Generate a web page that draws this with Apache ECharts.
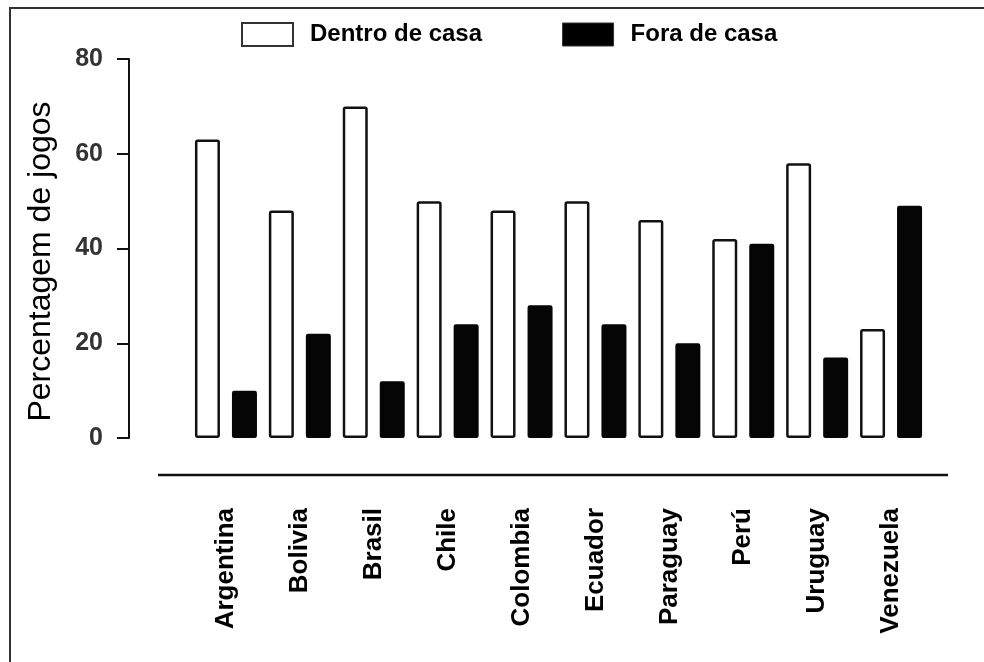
<!DOCTYPE html>
<html>
<head>
<meta charset="utf-8">
<script src="https://cdn.jsdelivr.net/npm/echarts@6/dist/echarts.min.js"></script>
<style>
  html, body { margin: 0; padding: 0; background: #fff; }
  #chart { width: 984px; height: 662px; }
</style>
</head>
<body>
<div id="chart"></div>
<script>
// Countries on the category axis
const countries = ['Argentina', 'Bolivia', 'Brasil', 'Chile', 'Colombia', 'Ecuador', 'Paraguay', 'Perú', 'Uruguay', 'Venezuela'];
// Percentage of matches played at home / away
const dentroDeCasa = [63, 48, 70, 50, 48, 50, 46, 42, 58, 23];
const foraDeCasa = [10, 22, 12, 24, 28, 24, 20, 41, 17, 49];
// Value axis ticks
const yTicks = [0, 20, 40, 60, 80];

const FONT = '"Liberation Sans", Arial, sans-serif';

const chart = echarts.init(document.getElementById('chart'), null, { renderer: 'canvas' });

chart.setOption({
  backgroundColor: '#ffffff',
  animation: false,
  legend: {
    top: 17,
    left: 236,
    icon: 'rect',
    itemWidth: 51,
    itemHeight: 23,
    itemGap: 80,
    textStyle: { fontFamily: FONT, fontWeight: 'bold', fontSize: 24, color: '#000', padding: [0, 0, 0, 12] },
    data: [
      { name: 'Dentro de casa', itemStyle: { color: '#fff', borderColor: '#333', borderWidth: 2 } },
      { name: 'Fora de casa', itemStyle: { color: '#000', borderColor: '#333', borderWidth: 1 } }
    ]
  },
  grid: { left: 189, top: 59, width: 739, height: 379, containLabel: false },
  xAxis: {
    type: 'category',
    data: countries,
    axisLine: { show: false },
    axisTick: { show: false },
    axisLabel: {
      rotate: 90,
      margin: 70,
      interval: 0,
      fontFamily: FONT,
      fontWeight: 'bold',
      fontSize: 26,
      color: '#000'
    }
  },
  yAxis: {
    type: 'value',
    min: yTicks[0],
    max: yTicks[yTicks.length - 1],
    interval: yTicks[1] - yTicks[0],
    offset: 60,
    name: 'Percentagem de jogos',
    nameLocation: 'middle',
    nameGap: 72,
    nameTextStyle: { fontFamily: FONT, fontSize: 32, color: '#000', padding: [0, 26, 0, 0] },
    axisLine: { show: true, lineStyle: { color: '#111', width: 2 } },
    axisTick: { show: true, length: 12, lineStyle: { color: '#111', width: 2 } },
    axisLabel: { margin: 26, fontFamily: FONT, fontWeight: 'bold', fontSize: 25, color: '#333' },
    splitLine: { show: false }
  },
  series: [
    {
      name: 'Dentro de casa',
      type: 'bar',
      data: dentroDeCasa,
      barWidth: 25,
      barGap: '48%',
      itemStyle: { color: '#fff', borderColor: '#111', borderWidth: 2.5, borderRadius: 1.5 }
    },
    {
      name: 'Fora de casa',
      type: 'bar',
      data: foraDeCasa,
      barWidth: 25,
      itemStyle: { color: '#050505', borderColor: '#050505', borderWidth: 2.5, borderRadius: 1 }
    }
  ],
  graphic: [
    {
      type: 'rect',
      shape: { x: 10, y: 8, width: 1000, height: 700 },
      style: { fill: 'none', stroke: '#333', lineWidth: 2 },
      silent: true
    },
    {
      type: 'line',
      shape: { x1: 158, y1: 475, x2: 948, y2: 475 },
      style: { stroke: '#111', lineWidth: 2.5 },
      silent: true
    }
  ]
});
</script>
</body>
</html>
